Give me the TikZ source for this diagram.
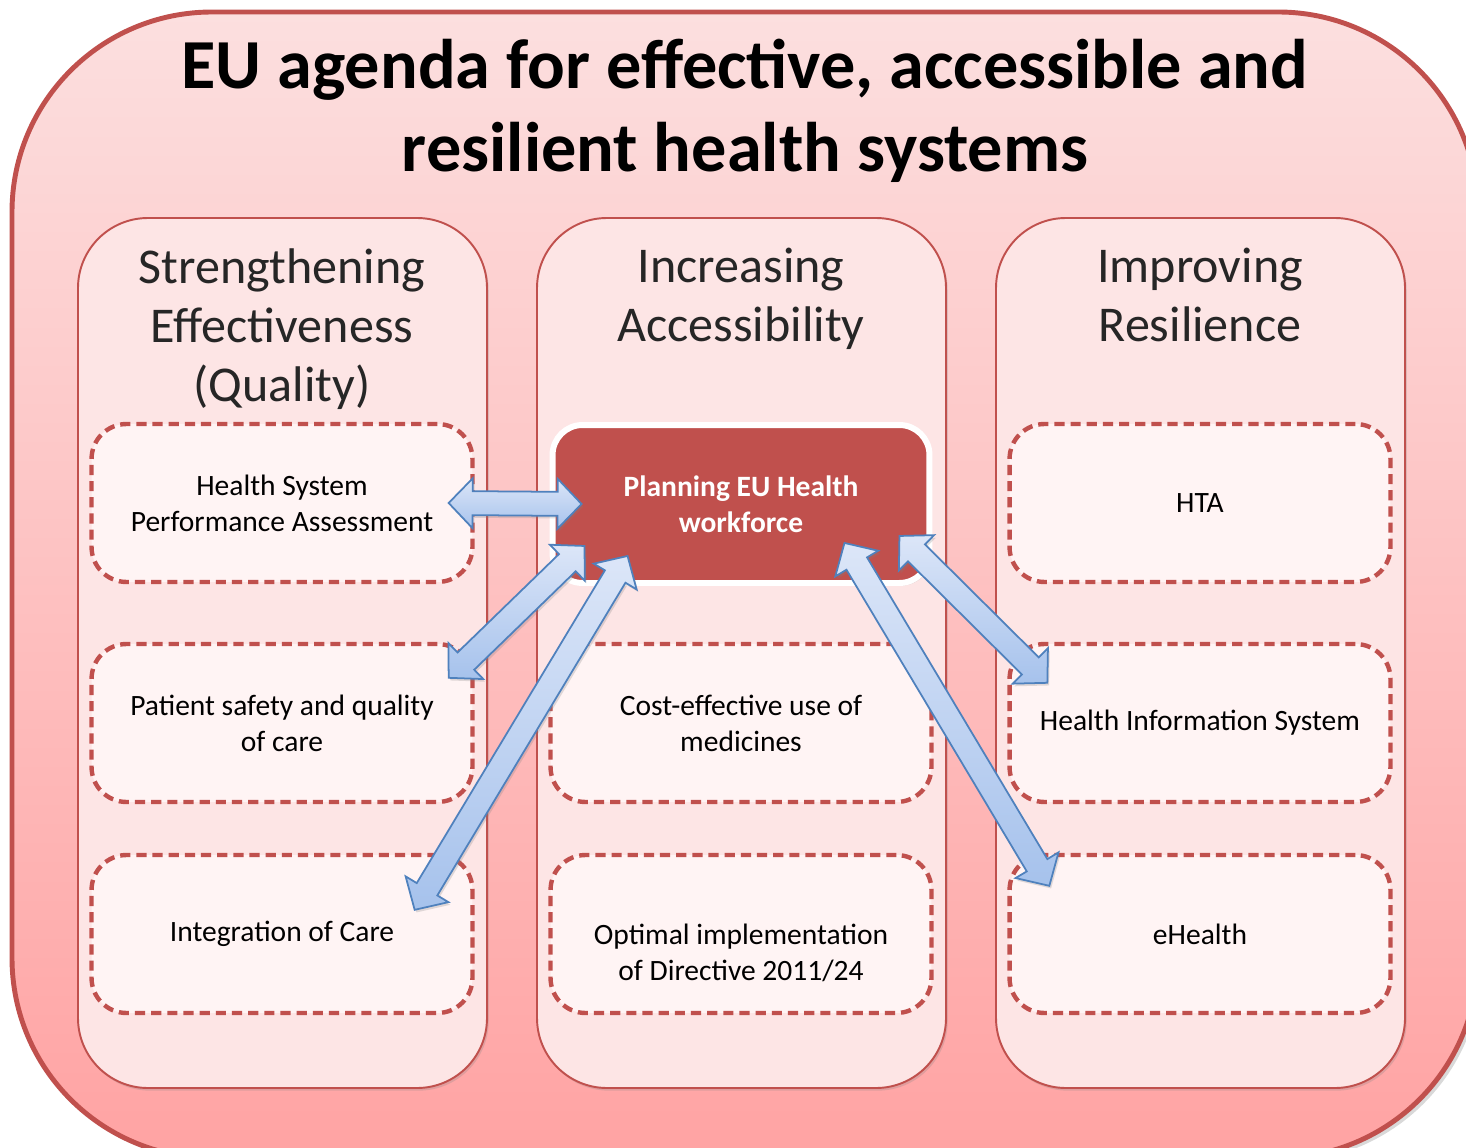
\documentclass[tikz,border=0pt]{standalone}
\usepackage{fontspec}
\setmainfont{Carlito}
\usetikzlibrary{calc,shadows}
\definecolor{eured}{HTML}{C0504D}
\definecolor{outertop}{HTML}{FCDFDF}
\definecolor{outerbottom}{HTML}{FFA3A3}
\definecolor{colfill}{HTML}{FDE5E5}
\definecolor{boxfill}{HTML}{FFF4F4}
\definecolor{arrowline}{HTML}{4F81BD}
\definecolor{arrowtop}{HTML}{DCE6F8}
\definecolor{arrowbottom}{HTML}{A6C2EC}
\newcommand{\blockarrow}[2]{%
    \draw[blockarr]
        (#1) -- ($(#1)!0.48cm!(#2)!0.5cm!90:(#2)$)
        -- ($(#1)!0.48cm!(#2)!0.24cm!90:(#2)$)
        -- ($(#2)!0.48cm!(#1)!0.24cm!-90:(#1)$)
        -- ($(#2)!0.48cm!(#1)!0.5cm!-90:(#1)$)
        -- (#2)
        -- ($(#2)!0.48cm!(#1)!0.5cm!90:(#1)$)
        -- ($(#2)!0.48cm!(#1)!0.24cm!90:(#1)$)
        -- ($(#1)!0.48cm!(#2)!0.24cm!-90:(#2)$)
        -- ($(#1)!0.48cm!(#2)!0.5cm!-90:(#2)$)
        -- cycle;}
\begin{document}
\begin{tikzpicture}
        [   x = 0.02cm
        ,   y = -0.02cm
        ,   outer/.style =
            {   draw = eured
            ,   line width = 2.8pt
            ,   rounded corners = 4cm
            ,   top color = outertop
            ,   bottom color = outerbottom
            ,   drop shadow = {opacity = 0.3}
            }
        ,   column/.style =
            {   draw = eured
            ,   line width = 1.1pt
            ,   rounded corners = 1.4cm
            ,   fill = colfill
            ,   drop shadow = {opacity = 0.25, shadow xshift = 1pt, shadow yshift = -1.5pt}
            }
        ,   title/.style =
            {   align = center
            ,   font = \fontsize{40}{47}\selectfont\bfseries
            }
        ,   coltitle/.style =
            {   align = center
            ,   text = black!85
            ,   font = \fontsize{28.5}{33.6}\selectfont
            }
        ,   boxtext/.style =
            {   align = center
            ,   font = \fontsize{16.8}{20.5}\selectfont
            }
        ,   dashbox/.style =
            {   boxtext
            ,   draw = eured
            ,   line width = 2.5pt
            ,   dash pattern = on 5.8pt off 3.4pt
            ,   rounded corners = 0.7cm
            ,   fill = boxfill
            ,   minimum width = 7.62cm
            ,   minimum height = 3.16cm
            ,   inner sep = 0pt
            }
        ,   planbox/.style =
            {   draw = white
            ,   line width = 3.4pt
            ,   rounded corners = 0.6cm
            ,   fill = eured
            ,   text = white
            ,   minimum width = 7.54cm
            ,   minimum height = 3.16cm
            ,   inner sep = 0pt
            ,   align = center
            ,   font = \fontsize{16.8}{20.5}\selectfont\bfseries
            ,   drop shadow = {opacity = 0.3, shadow xshift = 1pt, shadow yshift = -1.5pt}
            }
        ,   blockarr/.style =
            {   draw = arrowline
            ,   line width = 1pt
            ,   line join = miter
            ,   top color = arrowtop
            ,   bottom color = arrowbottom
            ,   drop shadow = {opacity = 0.25, shadow xshift = 1pt, shadow yshift = -1.5pt}
            }
        ]
        \useasboundingbox (0,0) rectangle (1466,1148);
        \draw[outer] (12,12) rectangle (1478,1158);
        \draw[column] (78,218) rectangle (487,1088);
        \draw[column] (537,218) rectangle (946,1088);
        \draw[column] (996,218) rectangle (1405,1088);
        \node[title] (title) at (745,111)
            {EU agenda for effective, accessible and\\resilient health systems};
        \node[coltitle] (efftitle) at (282,329)
            {Strengthening\\Effectiveness\\(Quality)};
        \node[coltitle] (acctitle) at (741,299)
            {Increasing\\Accessibility};
        \node[coltitle] (restitle) at (1200,295)
            {Improving\\Resilience};
        \node[dashbox] (hspa) at (282,503)
            {Health System\\Performance Assessment};
        \node[dashbox] (safety) at (282,723)
            {Patient safety and quality\\of care};
        \node[dashbox] (integ) at (282,934)
            {Integration of Care};
        \node[planbox] (plan) at (741,504)
            {Planning EU Health\\workforce};
        \node[dashbox] (medic) at (741,723)
            {Cost-effective use of\\medicines};
        \node[dashbox] (direct) at (741,934) {};
        \node[boxtext] (directtext) at (741,953)
            {Optimal implementation\\of Directive 2011/24};
        \node[dashbox] (hta) at (1200,503)
            {HTA};
        \node[dashbox] (his) at (1200,723)
            {Health Information System};
        \node[dashbox] (ehealth) at (1200,934)
            {eHealth};
        \coordinate (hspa-tip) at ($(hspa.east)+(-26,0)$);
        \coordinate (plan-w) at ($(plan.west)+(32,0)$);
        \coordinate (safety-tip) at ($(safety.north east)+(-26,36)$);
        \coordinate (plan-sw) at ($(plan.south west)+(35,-40)$);
        \coordinate (integ-tip) at ($(integ.north east)+(-60,57)$);
        \coordinate (plan-s) at ($(plan.south west)+(78,-30)$);
        \coordinate (plan-se) at ($(plan.south east)+(-88,-43)$);
        \coordinate (ehealth-tip) at ($(ehealth.north west)+(42,33)$);
        \coordinate (plan-e) at ($(plan.south east)+(-33,-50)$);
        \coordinate (his-tip) at ($(his.north west)+(40,41)$);
        \blockarrow{hspa-tip}{plan-w}
        \blockarrow{safety-tip}{plan-sw}
        \blockarrow{integ-tip}{plan-s}
        \blockarrow{ehealth-tip}{plan-se}
        \blockarrow{his-tip}{plan-e}
    \end{tikzpicture}
\end{document}
